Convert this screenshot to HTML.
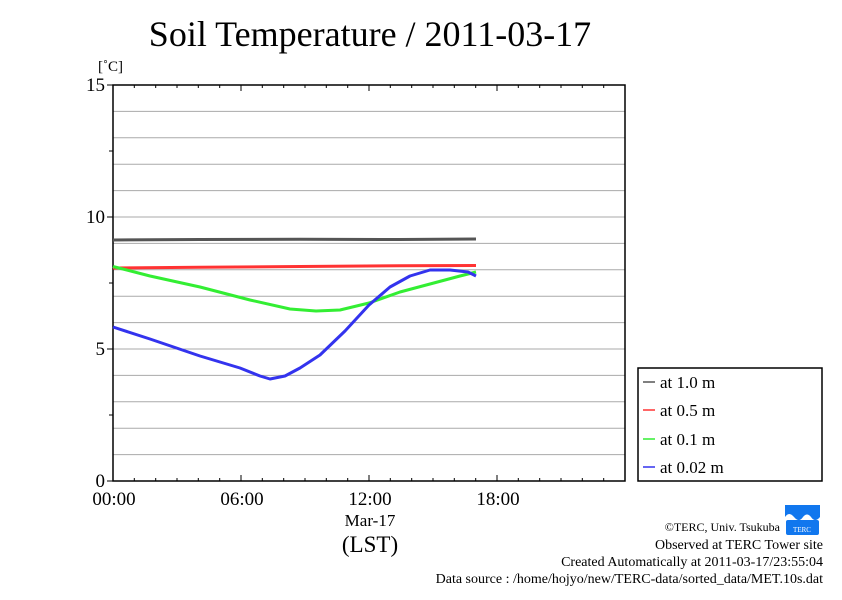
<!DOCTYPE html>
<html><head><style>
body{margin:0;background:#fff;width:842px;height:595px;overflow:hidden}
text{font-family:"Liberation Serif",serif;fill:#000}
</style></head><body>
<svg width="842" height="595" xmlns="http://www.w3.org/2000/svg">
<text x="370" y="46" font-size="36" text-anchor="middle">Soil Temperature / 2011-03-17</text>
<text x="98" y="71" font-size="15">[˚C]</text>
<g stroke="#aaa" stroke-width="1">
<line x1="113" x2="625" y1="111.4" y2="111.4"/><line x1="113" x2="625" y1="137.8" y2="137.8"/><line x1="113" x2="625" y1="164.2" y2="164.2"/><line x1="113" x2="625" y1="190.6" y2="190.6"/><line x1="113" x2="625" y1="217" y2="217"/><line x1="113" x2="625" y1="243.4" y2="243.4"/><line x1="113" x2="625" y1="269.8" y2="269.8"/><line x1="113" x2="625" y1="296.2" y2="296.2"/><line x1="113" x2="625" y1="322.6" y2="322.6"/><line x1="113" x2="625" y1="349" y2="349"/><line x1="113" x2="625" y1="375.4" y2="375.4"/><line x1="113" x2="625" y1="401.8" y2="401.8"/><line x1="113" x2="625" y1="428.2" y2="428.2"/><line x1="113" x2="625" y1="454.6" y2="454.6"/>
</g>
<rect x="113" y="85" width="512" height="396" fill="none" stroke="#000" stroke-width="1.5"/>
<g stroke="#000" stroke-width="1">
<line x1="107" x2="113" y1="85" y2="85"/><line x1="107" x2="113" y1="217" y2="217"/><line x1="107" x2="113" y1="349" y2="349"/><line x1="107" x2="113" y1="481" y2="481"/>
<line x1="109" x2="113" y1="151" y2="151"/><line x1="109" x2="113" y1="283" y2="283"/><line x1="109" x2="113" y1="415" y2="415"/>
</g>
<g stroke="#000" stroke-width="1">
<path d="M134.3 481v-3M155.7 481v-3M177 481v-3M198.3 481v-3M219.7 481v-3M241 481v-6M262.3 481v-3M283.7 481v-3M305 481v-3M326.3 481v-3M347.7 481v-3M369 481v-6M390.3 481v-3M411.7 481v-3M433 481v-3M454.3 481v-3M475.7 481v-3M497 481v-6M518.3 481v-3M539.7 481v-3M561 481v-3M582.3 481v-3M603.7 481v-3"/>
<path d="M134.3 85v3M155.7 85v3M177 85v3M198.3 85v3M219.7 85v3M241 85v6M262.3 85v3M283.7 85v3M305 85v3M326.3 85v3M347.7 85v3M369 85v6M390.3 85v3M411.7 85v3M433 85v3M454.3 85v3M475.7 85v3M497 85v6M518.3 85v3M539.7 85v3M561 85v3M582.3 85v3M603.7 85v3"/>
</g>
<g font-size="19" text-anchor="end">
<text x="105" y="91">15</text><text x="105" y="223">10</text><text x="105" y="355">5</text><text x="105" y="487">0</text>
</g>
<g font-size="19" text-anchor="middle">
<text x="114" y="505">00:00</text><text x="242" y="505">06:00</text><text x="370" y="505">12:00</text><text x="498" y="505">18:00</text>
<text x="370" y="526" font-size="17">Mar-17</text>
<text x="370" y="552" font-size="23">(LST)</text>
</g>
<g fill="none" stroke-width="3" stroke-linejoin="round">
<polyline stroke="#555" points="113,240 200,239.5 300,239.3 400,239.5 476,239"/>
<polyline stroke="#f33" points="113,268 200,267.3 300,266.5 400,265.8 476,265.5"/>
<polyline stroke="#3e3" points="113,266.5 150,276 200,287 250,300 290,309 316,311 340,310 369,303 400,292 430,284 460,276 476,272"/>
<polyline stroke="#33e" points="113,327 150,339 200,356 240,368 260,376 270,379 285,376 300,368 320,355 345,331 369,305 390,287 410,276 430,270 450,270 468,272 476,276"/>
</g>
<rect x="638" y="368" width="184" height="113" fill="#fff" stroke="#000" stroke-width="1.5"/>
<g stroke-width="1.5"><line x1="643" x2="655" y1="382" y2="382" stroke="#555"/><line x1="643" x2="655" y1="410" y2="410" stroke="#f33"/><line x1="643" x2="655" y1="439" y2="439" stroke="#3e3"/><line x1="643" x2="655" y1="467" y2="467" stroke="#33e"/></g>
<g font-size="17"><text x="660" y="388">at 1.0 m</text><text x="660" y="416">at 0.5 m</text><text x="660" y="445">at 0.1 m</text><text x="660" y="473">at 0.02 m</text></g>
<g fill="#1177ee"><path d="M785 505 h35 v12 q-5 6 -9 0 q-4 -5 -8 0 q-4 6 -9 0 q-5-6-9 0z"/><rect x="786" y="520" width="33" height="15" rx="2"/></g>
<text x="802" y="532" font-size="7" text-anchor="middle" style="fill:#fff">TERC</text>
<g font-size="14" text-anchor="end">
<text x="780" y="531" font-size="12">©TERC, Univ. Tsukuba</text>
<text x="823" y="549">Observed at TERC Tower site</text>
<text x="823" y="566">Created Automatically at 2011-03-17/23:55:04</text>
<text x="823" y="583">Data source : /home/hojyo/new/TERC-data/sorted_data/MET.10s.dat</text>
</g>
</svg>
</body></html>
